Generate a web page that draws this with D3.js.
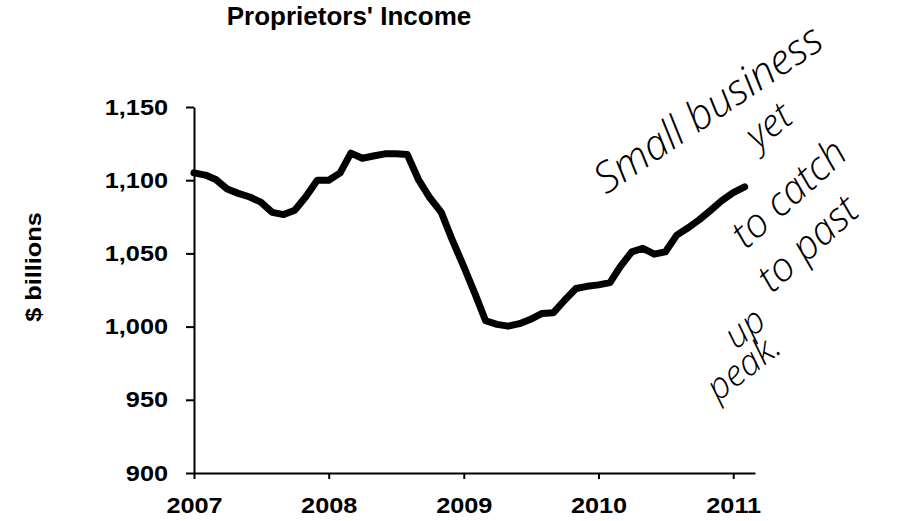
<!DOCTYPE html>
<meta charset="utf-8">
<script src="https://d3js.org/d3.v7.min.js"></script>
<style>
  body { margin: 0; background: #fff; }
</style>
<div id="chart"></div>
<script>

// monthly proprietors' income, Jan 2007 - Feb 2011 ($ billions)
var months = d3.range(50).map(function(i){ return new Date(2007, i, 1) })
var income = [
  1105, 1103.5, 1100.5, 1094, 1091, 1088.5, 1085, 1078, 1076.5, 1079.5, 1089, 1100,
  1100, 1105, 1118.5, 1115, 1116.5, 1118, 1118, 1117.5, 1100, 1088, 1078, 1059,
  1041, 1022, 1004, 1001.5, 1000.3, 1002, 1005, 1009, 1009.5, 1018, 1026, 1027.5,
  1028.5, 1030, 1041, 1051, 1053.5, 1049.5, 1051, 1062.5, 1067.5, 1073, 1079.5, 1086,
  1091.5, 1095.5
]
var yTicks = [900, 950, 1000, 1050, 1100, 1150]
var xTicks = [2007, 2008, 2009, 2010, 2011]
var noteLines = ["Small business", "yet", "to catch", "up", "to past", "peak."]

var width = 912, height = 521
var stretch = 1.15   // the scanned labels are a bit wider than plain Arial

var svg = d3.select("#chart")
  .append("svg")
    .attr("width", width)
    .attr("height", height)
    .style("font-family", "'Liberation Sans', Arial, sans-serif")

var x = d3.scaleTime()
  .domain([new Date(2007, 0, 1), new Date(2011, 2, 1)])
  .range([194, 755])

var y = d3.scaleLinear()
  .domain([900, 1150])
  .range([473, 107])

// y axis
var yAxis = svg.append("g")
  .attr("transform", "translate(194,0)")
  .call(d3.axisLeft(y)
    .tickValues(yTicks)
    .tickFormat(d3.format(","))
    .tickSize(8)
    .tickSizeOuter(0))
yAxis.selectAll("text")
  .attr("x", -26 / stretch)
  .attr("transform", "scale(" + stretch + ",1)")
  .style("font-size", "22px")
  .style("font-weight", "bold")
  .attr("fill", "#000")
yAxis.selectAll("line, path").attr("stroke", "#000").attr("stroke-width", 2)

// x axis
var xAxis = svg.append("g")
  .attr("transform", "translate(0,473)")
  .call(d3.axisBottom(x)
    .tickValues(xTicks.map(function(d){ return new Date(d, 0, 1) }))
    .tickFormat(d3.timeFormat("%Y"))
    .tickSize(6)
    .tickSizeOuter(0)
    .tickPadding(18))
xAxis.selectAll("text")
  .attr("transform", "scale(" + stretch + ",1)")
  .style("font-size", "22px")
  .style("font-weight", "bold")
  .attr("fill", "#000")
xAxis.selectAll("line, path").attr("stroke", "#000").attr("stroke-width", 2)

// the income line
var line = d3.line()
  .x(function(d, i){ return x(months[i]) })
  .y(function(d){ return y(d) })

svg.append("path")
  .datum(income)
  .attr("d", line)
  .attr("fill", "none")
  .attr("stroke", "#000")
  .attr("stroke-width", 7)
  .attr("stroke-linejoin", "round")
  .attr("stroke-linecap", "round")

// title
svg.append("text")
  .attr("x", 349)
  .attr("y", 25)
  .attr("text-anchor", "middle")
  .style("font-size", "26px")
  .style("font-weight", "bold")
  .text("Proprietors' Income")

// y axis title
svg.append("text")
  .attr("transform", "translate(41,267) rotate(-90) scale(" + stretch + ",1)")
  .attr("text-anchor", "middle")
  .style("font-size", "22px")
  .style("font-weight", "bold")
  .text("$ billions")

// handwritten note: x, y, angle, size
var notePos = [[606, 195, -34, 42], [758, 150, -38, 38], [746, 250, -42, 40],
               [736, 350, -38, 36], [772, 294, -42, 40], [718, 402, -38, 36]]
svg.selectAll(".note")
  .data(noteLines)
  .enter()
  .append("text")
    .attr("class", "note")
    .attr("transform", function(d, i){
      var p = notePos[i]
      return "translate(" + p[0] + "," + p[1] + ") rotate(" + p[2] + ")"
    })
    .style("font-family", "'Open Sans', sans-serif")
    .style("font-style", "italic")
    .style("font-weight", 300)
    .style("font-size", function(d, i){ return notePos[i][3] + "px" })
    .text(function(d){ return d })

</script>
